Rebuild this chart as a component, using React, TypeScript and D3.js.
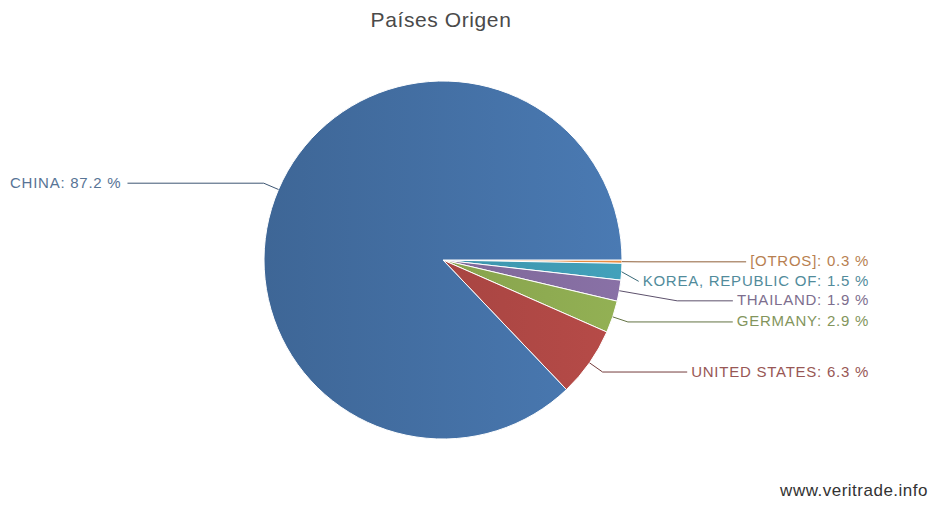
import React, { useEffect, useRef } from "react";
import * as d3 from "d3";

const categories = ["[OTROS]", "KOREA, REPUBLIC OF", "THAILAND", "GERMANY", "UNITED STATES", "CHINA"];
const values = [0.3, 1.5, 1.9, 2.9, 6.3, 87.2];
const colors = ["#DB843D", "#3D96AE", "#80699B", "#89A54E", "#AA4643", "#4572A7"];
const title = "Países Origen";
const credit = "www.veritrade.info";

const W = 933;
const H = 506;

export default function App() {
  const ref = useRef<SVGSVGElement | null>(null);

  useEffect(() => {
    const svg = d3.select(ref.current);
    svg.selectAll("*").remove();
    const cx = 443, cy = 260, r = 179;
    const font = "Arial, 'Liberation Sans', sans-serif";

    const data = categories.map((c, i) => ({ name: c, value: values[i], color: colors[i] }));
    const pie = d3.pie<any>().sort(null).value((d) => d.value)
      .startAngle(Math.PI / 2).endAngle(Math.PI / 2 + 2 * Math.PI);
    const arcs = pie(data);
    const arc = d3.arc<any>().innerRadius(0).outerRadius(r);

    const defs = svg.append("defs");
    data.forEach((d, i) => {
      const g = defs.append("linearGradient").attr("id", "grad" + i)
        .attr("gradientUnits", "userSpaceOnUse")
        .attr("x1", -r).attr("y1", 0).attr("x2", r).attr("y2", 0);
      g.append("stop").attr("offset", "0%").attr("stop-color", d3.color(d.color)!.darker(0.3).formatHex());
      g.append("stop").attr("offset", "100%").attr("stop-color", d3.color(d.color)!.brighter(0.2).formatHex());
    });

    svg.append("text").attr("x", 441).attr("y", 27).attr("text-anchor", "middle")
      .attr("font-family", font).attr("font-size", 21).attr("letter-spacing", 0.6)
      .attr("fill", "#4a4a4a").text(title);

    const g = svg.append("g").attr("transform", `translate(${cx},${cy})`);
    g.selectAll("path").data(arcs).join("path")
      .attr("d", arc as any)
      .attr("fill", (_d, i) => `url(#grad${i})`)
      .attr("stroke", "#ffffff").attr("stroke-width", 1).attr("stroke-linejoin", "round");

    // label layout
    const pt = (a: number, R: number) => [cx + R * Math.sin(a), cy - R * Math.cos(a)];
    const items = arcs.map((a, i) => {
      const mid = (a.startAngle + a.endAngle) / 2;
      const right = Math.sin(mid) > 0;
      const b = pt(mid, r + 16);
      return { i, mid, right, y: b[1], natY: b[1] };
    });
    const spacing = 19.5;
    [true, false].forEach((side) => {
      const list = items.filter((d) => d.right === side).sort((a, b) => a.natY - b.natY);
      for (let k = 1; k < list.length; k++) {
        list[k].y = Math.max(list[k].natY, list[k - 1].y + spacing);
      }
    });

    const lg = svg.append("g");
    items.forEach((it) => {
      const d = data[it.i];
      const tc = d3.interpolateRgb(d.color, "#777777")(0.35);
      const text = lg.append("text")
        .attr("x", it.right ? 869 : 10)
        .attr("y", it.y - 1)
        .attr("dominant-baseline", "central")
        .attr("text-anchor", it.right ? "end" : "start")
        .attr("font-family", font).attr("font-size", 15).attr("letter-spacing", 0.75)
        .attr("fill", tc)
        .text(`${d.name}: ${d3.format(".1f")(d.value)} %`);
      const tw = (text.node() as SVGTextElement).getComputedTextLength();
      const textEdge = it.right ? 869 - tw - 4 : 10 + tw + 6;
      const E = pt(it.mid, r);
      const B = pt(it.mid, r + 16);
      const pts: number[][] = [E];
      const cosm = Math.cos(it.mid);
      const Rl = Math.abs(cosm) > 1e-6 ? (it.y - cy) / (-cosm) : -1;
      const P = pt(it.mid, Rl);
      const sideOk = it.right ? P[0] < textEdge : P[0] > textEdge;
      if (Rl > r + 16 && sideOk) {
        pts.push(P);
      } else if (Math.abs(textEdge - B[0]) < 8) {
        // label close to the pie: go straight to it
      } else {
        pts.push(B);
        const jx = B[0] + (it.right ? 1 : -1) * Math.abs(it.y - B[1]) * 0.4;
        const cx2 = it.right ? Math.min(jx, textEdge) : Math.max(jx, textEdge);
        pts.push([cx2, it.y]);
      }
      pts.push([textEdge, it.y]);
      lg.append("path")
        .attr("d", d3.line()(pts as any))
        .attr("fill", "none")
        .attr("stroke", d3.interpolateRgb(d.color, "#333333")(0.45))
        .attr("stroke-width", 1);
    });

    svg.append("text").attr("x", 928).attr("y", 496).attr("text-anchor", "end")
      .attr("font-family", font).attr("font-size", 17).attr("letter-spacing", 0.5)
      .attr("fill", "#333").text(credit);
  }, []);

  return (
    <svg ref={ref} width={W} height={H}
      style={{ position: "absolute", left: 0, top: 0, background: "#fff" }} />
  );
}
